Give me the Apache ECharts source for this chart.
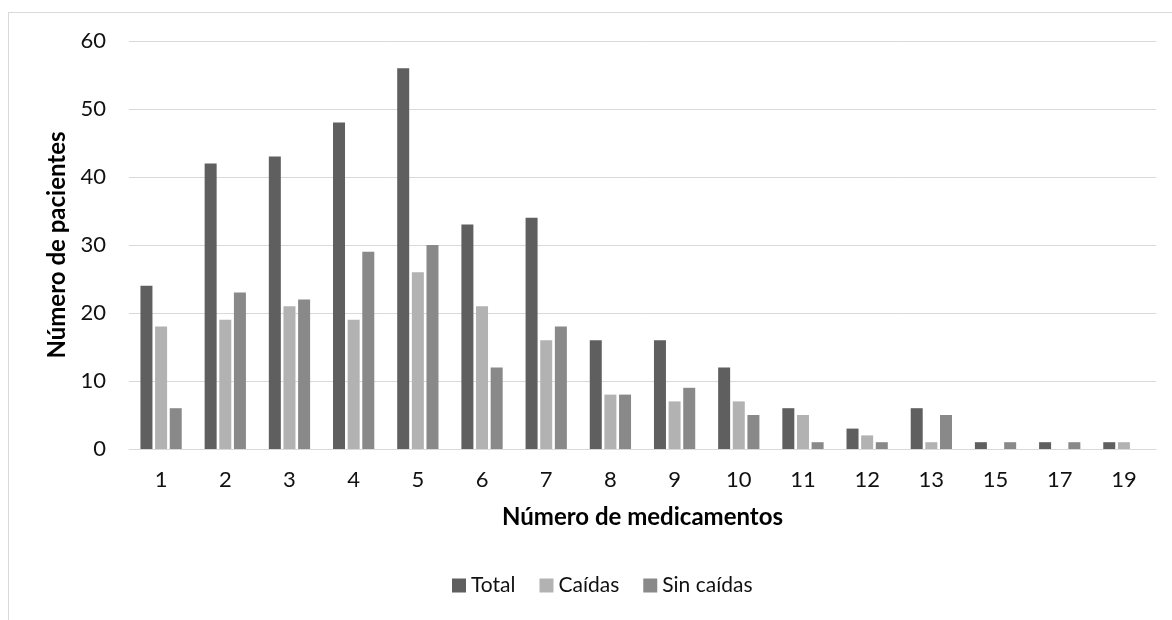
<!DOCTYPE html>
<html>
<head>
<meta charset="utf-8">
<script src="https://cdn.jsdelivr.net/npm/echarts@6/dist/echarts.min.js"></script>
<style>
  html, body { margin: 0; padding: 0; background: #fff; }
  #chart { width: 1172px; height: 620px; }
</style>
</head>
<body>
<div id="chart"></div>
<script>
// number of medications (x categories)
var categories = ['1', '2', '3', '4', '5', '6', '7', '8', '9', '10', '11', '12', '13', '15', '17', '19'];
var totalValues = [24, 42, 43, 48, 56, 33, 34, 16, 16, 12, 6, 3, 6, 1, 1, 1];
var caidasValues = [18, 19, 21, 19, 26, 21, 16, 8, 7, 7, 5, 2, 1, 0, 0, 1];
var sinCaidasValues = [6, 23, 22, 29, 30, 12, 18, 8, 9, 5, 1, 1, 5, 1, 1, 0];

var fontName = 'Lato';

var myChart = echarts.init(document.getElementById('chart'));

var option = {
    animation: false,
    textStyle: { fontFamily: fontName },
    // thin frame round the chart area, like the spreadsheet export
    graphic: [
        { type: 'line', shape: { x1: 8, y1: 12.5, x2: 1172, y2: 12.5 }, style: { stroke: '#d9d9d9', lineWidth: 1 } },
        { type: 'line', shape: { x1: 8.5, y1: 12, x2: 8.5, y2: 620 }, style: { stroke: '#d9d9d9', lineWidth: 1 } }
    ],
    grid: {
        left: 129,
        right: 16,
        top: 41,
        bottom: 171
    },
    legend: {
        bottom: 19,
        left: 447,
        itemWidth: 14,
        itemHeight: 14,
        itemGap: 24,
        icon: 'rect',
        textStyle: { fontSize: 21, color: '#111', fontFamily: fontName },
        data: ['Total', 'Caídas', 'Sin caídas']
    },
    xAxis: {
        type: 'category',
        data: categories,
        name: 'Número de medicamentos',
        nameLocation: 'middle',
        nameGap: 56,
        nameTextStyle: { fontSize: 24, fontWeight: 'bold', color: '#000', fontFamily: fontName },
        axisLine: { lineStyle: { color: '#d9d9d9', width: 1 } },
        axisTick: { show: false },
        axisLabel: { fontSize: 22, color: '#111', margin: 20 }
    },
    yAxis: {
        type: 'value',
        min: 0,
        max: 60,
        interval: 10,
        name: 'Número de pacientes',
        nameLocation: 'middle',
        nameGap: 52,
        nameTextStyle: { fontSize: 24, fontWeight: 'bold', color: '#000', fontFamily: fontName },
        axisLine: { show: false },
        axisTick: { show: false },
        axisLabel: { fontSize: 22, color: '#111', margin: 23 },
        splitLine: { lineStyle: { color: '#d9d9d9', width: 1 } }
    },
    series: [
        {
            name: 'Total',
            type: 'bar',
            data: totalValues,
            barWidth: 12,
            barGap: '22%',
            itemStyle: { color: '#5f5f5f' }
        },
        {
            name: 'Caídas',
            type: 'bar',
            data: caidasValues,
            barWidth: 12,
            barGap: '22%',
            itemStyle: { color: '#b2b2b2' }
        },
        {
            name: 'Sin caídas',
            type: 'bar',
            data: sinCaidasValues,
            barWidth: 12,
            barGap: '22%',
            itemStyle: { color: '#898989' }
        }
    ]
};

myChart.setOption(option);
</script>
</body>
</html>
